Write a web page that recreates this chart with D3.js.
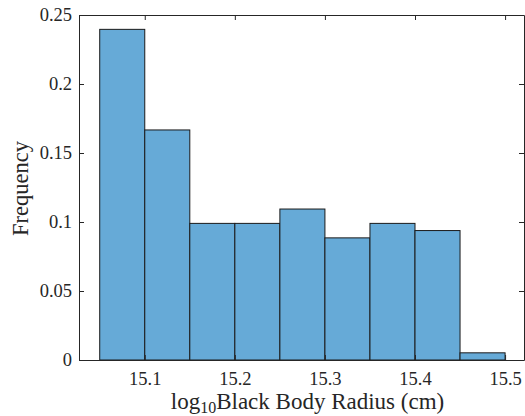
<!DOCTYPE html>
<html>
<head>
<meta charset="utf-8">
<script src="https://cdn.jsdelivr.net/npm/d3@7"></script>
<style>
html,body{margin:0;padding:0;background:#fff;}
svg{display:block;}
text{font-family:"Liberation Serif","Times New Roman",serif;fill:#262626;}
</style>
</head>
<body>
<svg id="chart" width="525" height="416"></svg>
<script>
// Data
const binEdges = [15.05, 15.1, 15.15, 15.2, 15.25, 15.3, 15.35, 15.4, 15.45, 15.5];
const frequencies = [0.2396, 0.1667, 0.0990, 0.0990, 0.1094, 0.0885, 0.0990, 0.0938, 0.0052];
const xTicks = [15.1, 15.2, 15.3, 15.4, 15.5];
const yTicks = [0, 0.05, 0.1, 0.15, 0.2, 0.25];
const xDomain = [15.027, 15.521];
const yDomain = [0, 0.25];

const svg = d3.select("#chart");
const L = 79, R = 524, T = 15, B = 360;
const x = d3.scaleLinear().domain(xDomain).range([L, R]);
const y = d3.scaleLinear().domain(yDomain).range([B, T]);

const bins = frequencies.map((f, i) => ({x0: binEdges[i], x1: binEdges[i + 1], f}));

svg.append("g").selectAll("rect").data(bins).join("rect")
  .attr("x", d => x(d.x0))
  .attr("y", d => y(d.f))
  .attr("width", d => x(d.x1) - x(d.x0))
  .attr("height", d => y(0) - y(d.f))
  .attr("fill", "#66aad7")
  .attr("stroke", "#1a1a1a")
  .attr("stroke-width", 1);

const tickLen = 5;
const fmt = d => String(d);

const xb = svg.append("g").attr("transform", `translate(0,${B})`)
  .call(d3.axisBottom(x).tickValues(xTicks).tickSizeInner(-tickLen).tickSizeOuter(0).tickPadding(10).tickFormat(fmt));
const xt = svg.append("g").attr("transform", `translate(0,${T})`)
  .call(d3.axisTop(x).tickValues(xTicks).tickSizeInner(-tickLen).tickSizeOuter(0).tickFormat(""));
const yl = svg.append("g").attr("transform", `translate(${L},0)`)
  .call(d3.axisLeft(y).tickValues(yTicks).tickSizeInner(-tickLen).tickSizeOuter(0).tickPadding(7).tickFormat(fmt));
const yr = svg.append("g").attr("transform", `translate(${R},0)`)
  .call(d3.axisRight(y).tickValues(yTicks).tickSizeInner(-tickLen).tickSizeOuter(0).tickFormat(""));

[xb, xt, yl, yr].forEach(g => {
  g.select(".domain").attr("stroke", "#262626").attr("stroke-width", 1);
  g.selectAll(".tick line").attr("stroke", "#262626");
  g.selectAll("text").attr("font-family", "Liberation Serif, serif").attr("font-size", 18.5).attr("fill", "#262626");
});
xb.selectAll(".tick text").attr("y", 25).attr("dy", 0);

const xl = svg.append("text")
  .attr("x", 307.5)
  .attr("y", 409)
  .attr("text-anchor", "middle")
  .attr("font-size", 23);
xl.append("tspan").text("log");
xl.append("tspan").attr("font-size", 16).attr("dy", 4).text("10");
xl.append("tspan").attr("dy", -4).text("Black Body Radius (cm)");

svg.append("text")
  .attr("transform", `translate(28,188.5) rotate(-90)`)
  .attr("text-anchor", "middle")
  .attr("font-size", 22.5)
  .text("Frequency");
</script>
</body>
</html>
